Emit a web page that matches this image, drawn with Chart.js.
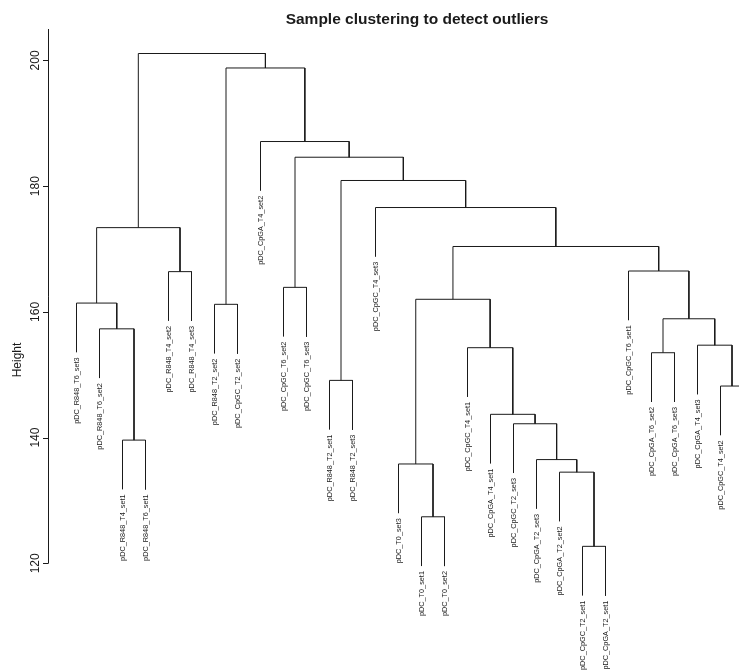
<!DOCTYPE html>
<html>
<head>
<meta charset="utf-8">
<script src="https://cdn.jsdelivr.net/npm/chart.js@4.4.1/dist/chart.umd.min.js"></script>
<style>
  html, body { margin: 0; padding: 0; background: #fff; }
  #wrap { width: 739px; height: 670px; position: relative; }
</style>
</head>
<body>
<div id="wrap"><canvas id="dendro"></canvas></div>
<script>
// leaves in plotting order (left -> right), last one is cut off at the right edge
const leafLabels = [
    'pDC_R848_T6_set3', 'pDC_R848_T6_set2', 'pDC_R848_T4_set1', 'pDC_R848_T6_set1',
    'pDC_R848_T4_set2', 'pDC_R848_T4_set3', 'pDC_R848_T2_set2', 'pDC_CpGC_T2_set2',
    'pDC_CpGA_T4_set2', 'pDC_CpGC_T6_set2', 'pDC_CpGC_T6_set3', 'pDC_R848_T2_set1',
    'pDC_R848_T2_set3', 'pDC_CpGC_T4_set3', 'pDC_T0_set3', 'pDC_T0_set1',
    'pDC_T0_set2', 'pDC_CpGC_T4_set1', 'pDC_CpGA_T4_set1', 'pDC_CpGC_T2_set3',
    'pDC_CpGA_T2_set3', 'pDC_CpGA_T2_set2', 'pDC_CpGC_T2_set1', 'pDC_CpGA_T2_set1',
    'pDC_CpGC_T6_set1', 'pDC_CpGA_T6_set2', 'pDC_CpGA_T6_set3', 'pDC_CpGA_T4_set3',
    'pDC_CpGC_T4_set2', 'pDC_CpGA_T6_set1'
];

// merge table like hclust: negative = leaf position, positive = earlier merge row
const mergeLeft   = [-23, -16, -22, -15, -21,  -3, -20, -19, -29, -12, -26, -18, -28,  -2,  11,
                      -7,  -1,   4, -10,  -5, -25,  18,  17, -14,  10,  19,  -9,  16,  23];
const mergeRight  = [-24, -17,   1,   2,   3,  -4,   5,   7, -30, -13, -27,   8,   9,   6,  13,
                      -8,  14,  12, -11,  -6,  15,  21,  20,  22,  24,  25,  26,  27,  28];
const mergeHeight = [122.7, 127.4, 134.5, 135.8, 136.5, 139.6, 142.2, 143.7, 148.2, 149.1,
                     153.5, 154.3, 154.7, 157.3, 158.9, 161.2, 161.4, 162.0, 163.9, 166.4,
                     166.5, 170.4, 173.4, 176.6, 180.9, 184.6, 187.1, 198.8, 201.1];

const yTicks = [120, 140, 160, 180, 200];
const yMin = 120, yMax = 205;
const titleText = 'Sample clustering to detect outliers';
const yTitle = 'Height';

// hclust default hang = 0.1 of the height range
const HANG = 0.1 * (Math.max(...mergeHeight) - Math.min(...mergeHeight));

// work out x centre of every node
const nodeX = [];
mergeLeft.forEach((l, i) => {
    const xl = l < 0 ? -l : nodeX[l - 1];
    const r = mergeRight[i];
    const xr = r < 0 ? -r : nodeX[r - 1];
    nodeX.push((xl + xr) / 2);
});

const leafEnd = new Array(leafLabels.length).fill(null);
const datasets = mergeLeft.map((l, i) => {
    const h = mergeHeight[i];
    const r = mergeRight[i];
    const xl = l < 0 ? -l : nodeX[l - 1];
    const xr = r < 0 ? -r : nodeX[r - 1];
    const yl = l < 0 ? h - HANG : mergeHeight[l - 1];
    const yr = r < 0 ? h - HANG : mergeHeight[r - 1];
    if (l < 0) leafEnd[-l - 1] = yl;
    if (r < 0) leafEnd[-r - 1] = yr;
    return {
        data: [{ x: xl, y: yl }, { x: xl, y: h }, { x: xr, y: h }, { x: xr, y: yr }],
        showLine: true, borderColor: '#1a1a1a', borderWidth: 1,
        pointRadius: 0, tension: 0, clip: false
    };
});

const rAxisPlugin = {
    id: 'rAxis',
    afterDatasetsDraw(chart) {
        const ctx = chart.ctx;
        const xs = chart.scales.x, ys = chart.scales.y;
        const ax = chart.chartArea.left;
        ctx.save();
        ctx.strokeStyle = '#1a1a1a';
        ctx.fillStyle = '#1a1a1a';
        ctx.lineWidth = 1;

        // y axis line + ticks
        ctx.beginPath();
        ctx.moveTo(ax - 0.5, ys.getPixelForValue(yMax));
        ctx.lineTo(ax - 0.5, ys.getPixelForValue(yMin));
        yTicks.forEach(t => {
            const py = Math.round(ys.getPixelForValue(t)) + 0.5;
            ctx.moveTo(ax - 0.5, py);
            ctx.lineTo(ax - 6, py);
        });
        ctx.stroke();

        ctx.font = '12px "Liberation Sans", Arial, sans-serif';
        ctx.textAlign = 'center';
        ctx.textBaseline = 'alphabetic';
        yTicks.forEach(t => {
            ctx.save();
            ctx.translate(39, ys.getPixelForValue(t));
            ctx.rotate(-Math.PI / 2);
            ctx.fillText(String(t), 0, 0);
            ctx.restore();
        });
        ctx.save();
        ctx.translate(21, 360);
        ctx.rotate(-Math.PI / 2);
        ctx.fillText(yTitle, 0, 0);
        ctx.restore();

        // title
        ctx.font = 'bold 15.5px "Liberation Sans", Arial, sans-serif';
        ctx.fillText(titleText, 417, 24);

        // leaf labels hanging under each leaf
        ctx.font = '7.3px "Liberation Sans", Arial, sans-serif';
        ctx.textAlign = 'right';
        ctx.textBaseline = 'middle';
        leafLabels.forEach((lab, i) => {
            ctx.save();
            ctx.translate(xs.getPixelForValue(i + 1), ys.getPixelForValue(leafEnd[i]) + 5);
            ctx.rotate(-Math.PI / 2);
            ctx.fillText(lab, 0, 0);
            ctx.restore();
        });
        ctx.restore();
    }
};

new Chart(document.getElementById('dendro'), {
    type: 'scatter',
    data: { datasets: datasets },
    options: {
        responsive: true,
        maintainAspectRatio: false,
        animation: false,
        layout: { padding: { left: 49, top: 29, right: 0, bottom: 106.7 } },
        plugins: { legend: { display: false }, title: { display: false }, tooltip: { enabled: false } },
        scales: {
            x: { type: 'linear', display: false, min: 1 - 27.5 / 23, max: 1 + 662.5 / 23 },
            y: { type: 'linear', display: false, min: yMin, max: yMax }
        }
    },
    plugins: [rAxisPlugin]
});
</script>
</body>
</html>
